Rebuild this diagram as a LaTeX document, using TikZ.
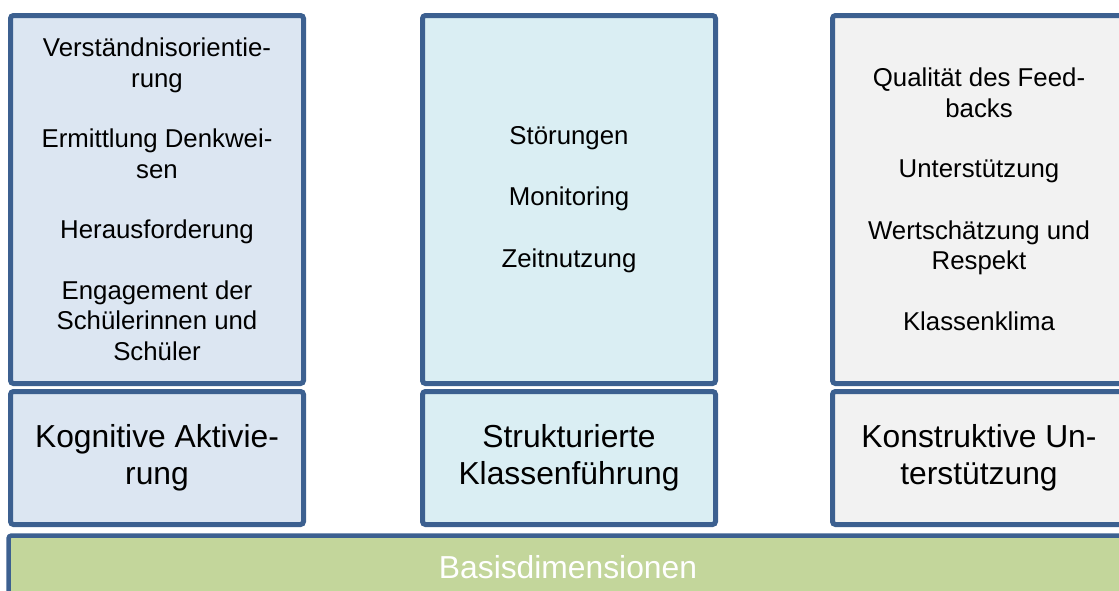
\documentclass[tikz,border=0pt]{standalone}
\usepackage{fontspec}
\setmainfont{Liberation Sans}
\usepackage{tikz}

\definecolor{rahmen}{HTML}{3C6090}
\definecolor{blaukasten}{HTML}{DCE6F2}
\definecolor{tuerkiskasten}{HTML}{DAEEF3}
\definecolor{graukasten}{HTML}{F2F2F2}
\definecolor{gruenbalken}{HTML}{C3D69B}

\begin{document}
\begin{tikzpicture}[x=1pt,y=-1pt,
		kasten/.style={draw=rahmen, line width=5pt, rounded corners=3pt, align=center, inner sep=0pt},
		oben/.style={kasten, minimum width=293pt, minimum height=368pt, font=\fontsize{25.8}{30.5}\selectfont},
		unten/.style={kasten, minimum width=293pt, minimum height=133pt, font=\fontsize{31.8}{37}\selectfont}]
			\useasboundingbox (0,0) rectangle (1119,590);
			% Basis
			\node (basis) at (568,567) [kasten, fill=gruenbalken, line width=4.5pt, minimum width=1119pt, minimum height=63pt, text=white, font=\fontsize{31.8}{37}\selectfont] {Basisdimensionen};
			% Kognitive Aktivierung
			\node (kaitems) at (157,199.5) [oben, fill=blaukasten] {Verständnisorientie-\\rung\\[30pt]Ermittlung Denkwei-\\sen\\[30pt]Herausforderung\\[30pt]Engagement der\\Schülerinnen und\\Schüler};
			\node (ka) at (157,458) [unten, fill=blaukasten] {Kognitive Aktivie-\\rung};
			% Strukturierte Klassenfuehrung
			\node (skitems) at (569,199.5) [oben, fill=tuerkiskasten] {Störungen\\[31pt]Monitoring\\[31pt]Zeitnutzung};
			\node (sk) at (569,458) [unten, fill=tuerkiskasten] {Strukturierte\\Klassenführung};
			% Konstruktive Unterstuetzung
			\node (kuitems) at (979,199.5) [oben, fill=graukasten] {Qualität des Feed-\\backs\\[30pt]Unterstützung\\[31pt]Wertschätzung und\\Respekt\\[30pt]Klassenklima};
			\node (ku) at (979,458) [unten, fill=graukasten] {Konstruktive Un-\\terstützung};
		\end{tikzpicture}
\end{document}
